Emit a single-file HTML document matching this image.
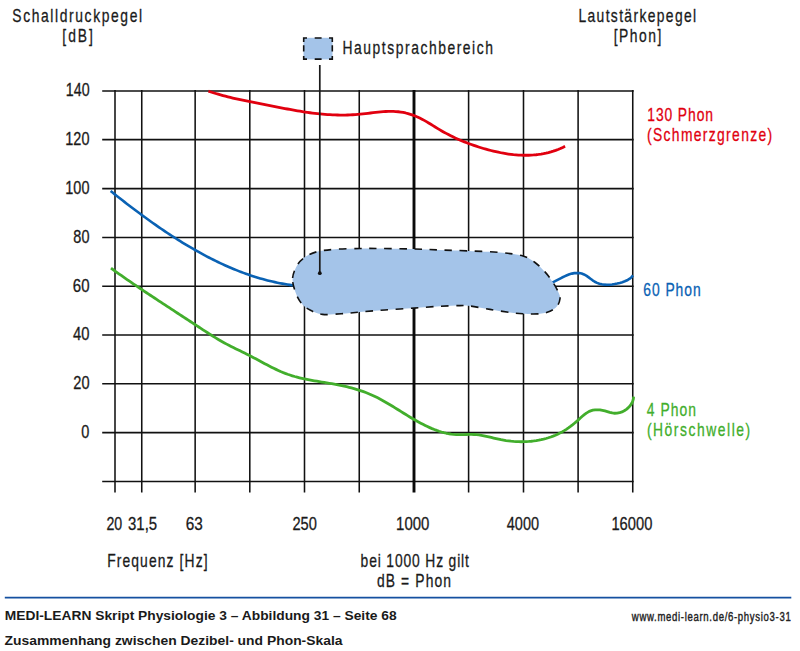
<!DOCTYPE html>
<html><head><meta charset="utf-8"><title>Zusammenhang zwischen Dezibel- und Phon-Skala</title>
<style>
html,body{margin:0;padding:0;background:#fff;width:800px;height:651px;overflow:hidden}
svg{display:block}
text{font-family:"Liberation Sans",Arial,sans-serif;white-space:pre}
</style></head><body>
<svg width="800" height="651" viewBox="0 0 800 651">
<rect width="800" height="651" fill="#fff"/>
<g stroke="#111111" stroke-width="1.55" fill="none"><line x1="102.2" y1="91" x2="633.65" y2="91"/><line x1="102.2" y1="139.6" x2="633.65" y2="139.6"/><line x1="102.2" y1="188.6" x2="633.65" y2="188.6"/><line x1="102.2" y1="237.4" x2="633.65" y2="237.4"/><line x1="102.2" y1="286.2" x2="633.65" y2="286.2"/><line x1="102.2" y1="335" x2="633.65" y2="335"/><line x1="102.2" y1="383.8" x2="633.65" y2="383.8"/><line x1="102.2" y1="432.6" x2="633.65" y2="432.6"/><line x1="102.2" y1="481.5" x2="633.65" y2="481.5"/><line x1="115" y1="90.1" x2="115" y2="492.4"/><line x1="141.75" y1="90.1" x2="141.75" y2="492.4"/><line x1="195.15" y1="90.1" x2="195.15" y2="492.4"/><line x1="249.8" y1="90.1" x2="249.8" y2="492.4"/><line x1="304.5" y1="90.1" x2="304.5" y2="492.4"/><line x1="359.25" y1="90.1" x2="359.25" y2="492.4"/><line x1="468.6" y1="90.1" x2="468.6" y2="492.4"/><line x1="523.5" y1="90.1" x2="523.5" y2="492.4"/><line x1="578.1" y1="90.1" x2="578.1" y2="492.4"/><line x1="632.75" y1="90.1" x2="632.75" y2="492.4"/></g>
<line x1="414" y1="90.1" x2="414" y2="492.4" stroke="#0a0a0a" stroke-width="2.9"/>
<path d="M110.62,190.99 L112.58,192.56 L114.54,194.12 L116.51,195.68 L118.48,197.24 L120.46,198.79 L122.44,200.34 L124.43,201.89 L126.42,203.43 L128.42,204.96 L130.42,206.50 L132.43,208.02 L134.44,209.55 L136.46,211.06 L138.48,212.57 L140.51,214.08 L142.55,215.58 L144.59,217.07 L146.63,218.56 L148.69,220.04 L150.74,221.51 L152.81,222.97 L154.88,224.43 L156.96,225.88 L159.04,227.31 L161.13,228.75 L163.23,230.17 L165.33,231.58 L167.44,232.98 L169.55,234.38 L171.67,235.76 L173.80,237.13 L175.94,238.50 L178.08,239.85 L180.23,241.19 L182.39,242.52 L184.55,243.84 L186.72,245.14 L188.90,246.44 L191.09,247.72 L193.28,248.99 L195.48,250.25 L197.69,251.49 L199.91,252.72 L202.13,253.93 L204.36,255.14 L206.60,256.32 L208.85,257.49 L211.10,258.65 L213.36,259.78 L215.63,260.91 L217.91,262.01 L220.20,263.10 L222.49,264.16 L224.79,265.21 L227.10,266.24 L229.41,267.26 L231.74,268.25 L234.07,269.22 L236.41,270.17 L238.75,271.09 L241.11,272.00 L243.47,272.88 L245.84,273.74 L248.22,274.58 L250.60,275.40 L252.99,276.19 L255.40,276.95 L257.80,277.69 L260.22,278.41 L262.64,279.10 L265.08,279.76 L267.52,280.40 L269.96,281.01 L272.42,281.59 L274.88,282.14 L277.35,282.66 L279.83,283.16 L282.32,283.62 L284.82,284.06 L287.32,284.47 L289.83,284.84 L292.35,285.18 L294.87,285.49 L297.41,285.77 L299.95,286.02 L302.50,286.23 L305.06,286.41" fill="none" stroke="#0a62b4" stroke-width="2.6" stroke-linecap="butt" stroke-linejoin="round"/>
<path d="M540.04,285.95 L542.44,285.77 L544.86,285.29 L547.28,284.56 L549.73,283.64 L552.18,282.55 L554.63,281.36 L557.10,280.09 L559.57,278.81 L562.04,277.54 L564.51,276.35 L566.98,275.26 L569.45,274.33 L571.91,273.60 L574.37,273.12 L576.81,272.93 L579.24,273.08 L581.65,273.58 L583.98,274.44 L586.22,275.66 L588.37,277.13 L590.48,278.72 L592.60,280.30 L594.77,281.72 L597.03,282.88 L599.39,283.73 L601.82,284.33 L604.31,284.67 L606.85,284.80 L609.43,284.72 L612.03,284.47 L614.63,284.07 L617.23,283.54 L619.80,282.90 L622.33,282.17 L624.79,281.31 L627.13,280.27 L629.31,278.98 L631.29,277.40 L633.02,275.46" fill="none" stroke="#0a62b4" stroke-width="2.6" stroke-linecap="butt" stroke-linejoin="round"/>
<path d="M208.43,91.15 L210.84,91.97 L213.26,92.75 L215.69,93.49 L218.12,94.21 L220.55,94.91 L222.99,95.57 L225.44,96.22 L227.89,96.84 L230.34,97.44 L232.79,98.02 L235.25,98.58 L237.72,99.13 L240.19,99.67 L242.66,100.19 L245.13,100.70 L247.60,101.21 L250.08,101.70 L252.56,102.19 L255.04,102.68 L257.53,103.16 L260.01,103.64 L262.50,104.13 L264.99,104.61 L267.48,105.10 L269.97,105.59 L272.46,106.09 L274.95,106.58 L277.45,107.07 L279.94,107.56 L282.44,108.05 L284.93,108.53 L287.43,109.00 L289.93,109.47 L292.43,109.93 L294.93,110.37 L297.43,110.80 L299.93,111.22 L302.43,111.63 L304.93,112.02 L307.44,112.39 L309.94,112.74 L312.44,113.07 L314.95,113.38 L317.45,113.67 L319.96,113.94 L322.47,114.17 L324.97,114.38 L327.48,114.57 L329.99,114.72 L332.50,114.85 L335.02,114.95 L337.53,115.02 L340.05,115.06 L342.57,115.06 L345.10,115.04 L347.62,114.98 L350.15,114.89 L352.69,114.76 L355.23,114.60 L357.77,114.40 L360.32,114.17 L362.87,113.90 L365.42,113.61 L367.98,113.31 L370.53,113.00 L373.09,112.70 L375.64,112.40 L378.19,112.13 L380.73,111.89 L383.27,111.68 L385.80,111.52 L388.32,111.42 L390.83,111.39 L393.33,111.42 L395.82,111.54 L398.30,111.75 L400.76,112.06 L403.20,112.47 L405.63,112.99 L408.03,113.60 L410.42,114.31 L412.78,115.11 L415.12,116.01 L417.44,116.98 L419.73,118.04 L421.99,119.18 L424.23,120.38 L426.44,121.64 L428.64,122.94 L430.83,124.28 L433.01,125.62 L435.19,126.98 L437.37,128.32 L439.56,129.64 L441.76,130.93 L443.96,132.18 L446.18,133.39 L448.42,134.57 L450.66,135.71 L452.92,136.82 L455.19,137.90 L457.47,138.94 L459.76,139.95 L462.07,140.93 L464.39,141.88 L466.73,142.80 L469.08,143.69 L471.44,144.56 L473.82,145.39 L476.21,146.20 L478.61,146.99 L481.03,147.74 L483.47,148.48 L485.92,149.18 L488.38,149.86 L490.85,150.51 L493.33,151.12 L495.82,151.70 L498.32,152.24 L500.83,152.75 L503.34,153.21 L505.86,153.63 L508.38,154.01 L510.91,154.34 L513.43,154.63 L515.96,154.86 L518.49,155.05 L521.01,155.18 L523.54,155.25 L526.06,155.27 L528.58,155.23 L531.09,155.13 L533.59,154.97 L536.09,154.74 L538.58,154.45 L541.06,154.09 L543.53,153.66 L545.98,153.15 L548.43,152.58 L550.86,151.93 L553.28,151.20 L555.68,150.39 L558.06,149.50 L560.43,148.53 L562.77,147.47 L565.10,146.33" fill="none" stroke="#e1000f" stroke-width="2.8" stroke-linecap="butt" stroke-linejoin="round"/>
<path d="M110.99,268.17 L113.03,269.64 L115.07,271.11 L117.12,272.57 L119.17,274.02 L121.23,275.47 L123.29,276.91 L125.35,278.35 L127.42,279.78 L129.49,281.21 L131.56,282.63 L133.64,284.05 L135.72,285.46 L137.80,286.87 L139.88,288.28 L141.97,289.68 L144.06,291.08 L146.15,292.48 L148.24,293.87 L150.34,295.26 L152.43,296.65 L154.53,298.04 L156.63,299.42 L158.73,300.81 L160.84,302.19 L162.94,303.57 L165.04,304.95 L167.15,306.32 L169.26,307.70 L171.36,309.08 L173.47,310.45 L175.58,311.83 L177.69,313.21 L179.80,314.59 L181.91,315.96 L184.02,317.34 L186.13,318.72 L188.24,320.10 L190.34,321.48 L192.45,322.87 L194.56,324.26 L196.67,325.64 L198.77,327.03 L200.88,328.42 L202.99,329.80 L205.10,331.18 L207.22,332.55 L209.34,333.90 L211.47,335.25 L213.61,336.58 L215.75,337.89 L217.91,339.18 L220.07,340.45 L222.25,341.70 L224.44,342.92 L226.65,344.11 L228.86,345.27 L231.09,346.41 L233.33,347.54 L235.57,348.65 L237.82,349.76 L240.07,350.86 L242.33,351.97 L244.58,353.08 L246.84,354.20 L249.09,355.33 L251.33,356.49 L253.57,357.67 L255.81,358.86 L258.04,360.05 L260.27,361.26 L262.50,362.46 L264.74,363.66 L266.98,364.84 L269.22,366.01 L271.47,367.16 L273.73,368.29 L276.00,369.38 L278.28,370.44 L280.57,371.47 L282.88,372.44 L285.21,373.37 L287.55,374.24 L289.91,375.05 L292.29,375.81 L294.68,376.52 L297.09,377.17 L299.52,377.79 L301.96,378.37 L304.41,378.91 L306.87,379.42 L309.34,379.90 L311.81,380.36 L314.30,380.80 L316.79,381.23 L319.28,381.65 L321.78,382.06 L324.27,382.47 L326.77,382.88 L329.27,383.30 L331.77,383.72 L334.26,384.17 L336.75,384.63 L339.23,385.11 L341.71,385.62 L344.17,386.15 L346.63,386.72 L349.08,387.31 L351.51,387.94 L353.94,388.61 L356.35,389.31 L358.74,390.05 L361.12,390.83 L363.48,391.66 L365.82,392.53 L368.14,393.45 L370.45,394.42 L372.73,395.44 L374.99,396.51 L377.23,397.62 L379.46,398.77 L381.67,399.95 L383.87,401.17 L386.05,402.41 L388.23,403.68 L390.40,404.97 L392.56,406.28 L394.71,407.61 L396.86,408.94 L399.01,410.28 L401.16,411.62 L403.31,412.96 L405.46,414.29 L407.62,415.62 L409.78,416.93 L411.94,418.23 L414.12,419.51 L416.31,420.77 L418.50,422.00 L420.72,423.20 L422.94,424.36 L425.19,425.49 L427.45,426.58 L429.73,427.62 L432.03,428.61 L434.36,429.55 L436.71,430.43 L439.08,431.25 L441.48,432.00 L443.90,432.67 L446.34,433.26 L448.79,433.75 L451.27,434.14 L453.77,434.42 L456.28,434.58 L458.80,434.64 L461.34,434.62 L463.87,434.56 L466.41,434.49 L468.95,434.43 L471.47,434.42 L473.98,434.50 L476.48,434.67 L478.96,434.96 L481.42,435.35 L483.88,435.81 L486.32,436.33 L488.77,436.90 L491.21,437.48 L493.66,438.08 L496.11,438.66 L498.58,439.22 L501.05,439.73 L503.54,440.18 L506.05,440.58 L508.56,440.92 L511.08,441.21 L513.61,441.43 L516.14,441.59 L518.67,441.69 L521.20,441.73 L523.73,441.71 L526.26,441.62 L528.77,441.47 L531.28,441.25 L533.78,440.96 L536.26,440.60 L538.73,440.18 L541.18,439.68 L543.61,439.11 L546.02,438.48 L548.40,437.76 L550.76,436.98 L553.08,436.12 L555.38,435.18 L557.65,434.17 L559.88,433.08 L562.07,431.91 L564.23,430.66 L566.34,429.33 L568.42,427.92 L570.46,426.43 L572.47,424.88 L574.46,423.25 L576.43,421.57 L578.40,419.83 L580.35,418.05 L582.32,416.29 L584.32,414.63 L586.36,413.12 L588.46,411.85 L590.63,410.86 L592.88,410.20 L595.20,409.86 L597.58,409.79 L600.00,409.97 L602.44,410.37 L604.90,410.95 L607.36,411.67 L609.81,412.39 L612.27,412.97 L614.73,413.26 L617.19,413.17 L619.61,412.70 L621.97,411.88 L624.24,410.75 L626.40,409.32 L628.38,407.62 L630.14,405.70 L631.60,403.59 L632.70,401.34 L633.38,398.98 L633.56,396.54" fill="none" stroke="#42ae2c" stroke-width="2.8" stroke-linecap="butt" stroke-linejoin="round"/>
<path d="M292.60,278.00 C292.97,273.28 295.53,267.82 297.80,264.20 C300.07,260.58 302.97,258.40 306.25,256.30 C309.53,254.20 312.71,252.77 317.50,251.60 C322.29,250.43 327.92,249.82 335.00,249.30 C342.08,248.78 352.50,248.63 360.00,248.50 C367.50,248.37 371.00,248.42 380.00,248.50 C389.00,248.58 404.00,248.75 414.00,249.00 C424.00,249.25 430.88,249.68 440.00,250.00 C449.12,250.32 458.70,250.48 468.70,250.90 C478.70,251.32 490.95,251.65 500.00,252.50 C509.05,253.35 517.17,254.33 523.00,256.00 C528.83,257.67 531.33,259.85 535.00,262.50 C538.67,265.15 542.00,268.57 545.00,271.90 C548.00,275.23 550.75,279.07 553.00,282.50 C555.25,285.93 557.33,289.79 558.50,292.50 C559.67,295.21 560.25,296.46 560.00,298.75 C559.75,301.04 558.67,304.17 557.00,306.25 C555.33,308.33 552.83,310.00 550.00,311.25 C547.17,312.50 544.50,313.33 540.00,313.75 C535.50,314.17 528.00,313.96 523.00,313.75 C518.00,313.54 515.50,313.23 510.00,312.50 C504.50,311.77 496.67,310.48 490.00,309.40 C483.33,308.32 475.00,306.63 470.00,306.00 C465.00,305.37 465.00,305.56 460.00,305.60 C455.00,305.64 447.67,305.83 440.00,306.25 C432.33,306.67 423.17,307.48 414.00,308.10 C404.83,308.73 394.00,309.35 385.00,310.00 C376.00,310.65 367.29,311.38 360.00,312.00 C352.71,312.62 347.50,313.35 341.25,313.75 C335.00,314.15 327.62,314.97 322.50,314.40 C317.38,313.82 313.95,312.07 310.50,310.30 C307.05,308.53 304.28,306.72 301.80,303.75 C299.32,300.78 297.13,296.79 295.60,292.50 C294.07,288.21 292.23,282.72 292.60,278.00 Z" fill="#a4c4e9" stroke="#111" stroke-width="1.6" stroke-dasharray="7.5 7.6" stroke-dashoffset="0"/>
<line x1="319.8" y1="65" x2="319.8" y2="273.2" stroke="#1a1a1a" stroke-width="1.7"/>
<circle cx="319.8" cy="273.2" r="1.9" fill="#111"/>
<rect x="303.5" y="37.8" width="29.0" height="21.6" fill="#a4c4e9"/>
<path d="M303.7,42 V38 H307 M314.7,38 H321.6 M329,38 H332.3 V42 M303.7,45.3 V51.6 M332.3,45.3 V51.6 M303.7,56 V59.1 H307 M314.7,59.1 H321.6 M329,59.1 H332.3 V56" fill="none" stroke="#111" stroke-width="1.6"/>
<line x1="4.8" y1="597.6" x2="791.3" y2="597.6" stroke="#1450a0" stroke-width="1.9"/>
<text id="t_sdp" transform="scale(0.745,1)" x="16.59" y="21.80" font-size="18.6" fill="#1a1a1a" font-weight="normal" textLength="174.08" lengthAdjust="spacing" stroke="#1a1a1a" stroke-width="0.3" style="font-family:"Liberation Sans", Arial, sans-serif">Schalldruckpegel</text>
<text id="t_db" transform="scale(0.745,1)" x="83.70" y="42.30" font-size="18.6" fill="#1a1a1a" font-weight="normal" textLength="41.02" lengthAdjust="spacing" stroke="#1a1a1a" stroke-width="0.3" style="font-family:"Liberation Sans", Arial, sans-serif">[dB]</text>
<text id="t_hsb" transform="scale(0.745,1)" x="459.76" y="54.00" font-size="18.6" fill="#1a1a1a" font-weight="normal" textLength="201.94" lengthAdjust="spacing" stroke="#1a1a1a" stroke-width="0.3" style="font-family:"Liberation Sans", Arial, sans-serif">Hauptsprachbereich</text>
<text id="t_lsp" transform="scale(0.745,1)" x="776.48" y="21.70" font-size="18.6" fill="#1a1a1a" font-weight="normal" textLength="157.90" lengthAdjust="spacing" stroke="#1a1a1a" stroke-width="0.3" style="font-family:"Liberation Sans", Arial, sans-serif">Lautstärkepegel</text>
<text id="t_phon" transform="scale(0.745,1)" x="823.73" y="41.80" font-size="18.6" fill="#1a1a1a" font-weight="normal" textLength="64.05" lengthAdjust="spacing" stroke="#1a1a1a" stroke-width="0.3" style="font-family:"Liberation Sans", Arial, sans-serif">[Phon]</text>
<text id="y140" x="65.81" y="96.40" font-size="18.6" fill="#1a1a1a" font-weight="normal" textLength="23.75" lengthAdjust="spacingAndGlyphs" stroke="#1a1a1a" stroke-width="0.3" style="font-family:"Liberation Sans", Arial, sans-serif">140</text>
<text id="y120" x="65.31" y="145.00" font-size="18.6" fill="#1a1a1a" font-weight="normal" textLength="24.12" lengthAdjust="spacingAndGlyphs" stroke="#1a1a1a" stroke-width="0.3" style="font-family:"Liberation Sans", Arial, sans-serif">120</text>
<text id="y100" x="65.31" y="194.00" font-size="18.6" fill="#1a1a1a" font-weight="normal" textLength="24.12" lengthAdjust="spacingAndGlyphs" stroke="#1a1a1a" stroke-width="0.3" style="font-family:"Liberation Sans", Arial, sans-serif">100</text>
<text id="y80" x="73.36" y="242.80" font-size="18.6" fill="#1a1a1a" font-weight="normal" textLength="16.08" lengthAdjust="spacingAndGlyphs" stroke="#1a1a1a" stroke-width="0.3" style="font-family:"Liberation Sans", Arial, sans-serif">80</text>
<text id="y60" x="72.81" y="291.60" font-size="18.6" fill="#1a1a1a" font-weight="normal" textLength="16.70" lengthAdjust="spacingAndGlyphs" stroke="#1a1a1a" stroke-width="0.3" style="font-family:"Liberation Sans", Arial, sans-serif">60</text>
<text id="y40" x="73.08" y="340.40" font-size="18.6" fill="#1a1a1a" font-weight="normal" textLength="16.46" lengthAdjust="spacingAndGlyphs" stroke="#1a1a1a" stroke-width="0.3" style="font-family:"Liberation Sans", Arial, sans-serif">40</text>
<text id="y20" x="73.28" y="389.20" font-size="18.6" fill="#1a1a1a" font-weight="normal" textLength="16.27" lengthAdjust="spacingAndGlyphs" stroke="#1a1a1a" stroke-width="0.3" style="font-family:"Liberation Sans", Arial, sans-serif">20</text>
<text id="y0" x="81.37" y="438.00" font-size="18.6" fill="#1a1a1a" font-weight="normal" textLength="8.08" lengthAdjust="spacingAndGlyphs" stroke="#1a1a1a" stroke-width="0.3" style="font-family:"Liberation Sans", Arial, sans-serif">0</text>
<text id="x0" x="106.48" y="530.30" font-size="18.6" fill="#1a1a1a" font-weight="normal" textLength="15.80" lengthAdjust="spacingAndGlyphs" stroke="#1a1a1a" stroke-width="0.3" style="font-family:"Liberation Sans", Arial, sans-serif">20</text>
<text id="x1" x="128.04" y="530.30" font-size="18.6" fill="#1a1a1a" font-weight="normal" textLength="29.12" lengthAdjust="spacingAndGlyphs" stroke="#1a1a1a" stroke-width="0.3" style="font-family:"Liberation Sans", Arial, sans-serif">31,5</text>
<text id="x2" x="185.78" y="530.30" font-size="18.6" fill="#1a1a1a" font-weight="normal" textLength="17.07" lengthAdjust="spacingAndGlyphs" stroke="#1a1a1a" stroke-width="0.3" style="font-family:"Liberation Sans", Arial, sans-serif">63</text>
<text id="x3" x="292.45" y="530.30" font-size="18.6" fill="#1a1a1a" font-weight="normal" textLength="24.44" lengthAdjust="spacingAndGlyphs" stroke="#1a1a1a" stroke-width="0.3" style="font-family:"Liberation Sans", Arial, sans-serif">250</text>
<text id="x4" x="396.09" y="530.30" font-size="18.6" fill="#1a1a1a" font-weight="normal" textLength="33.29" lengthAdjust="spacingAndGlyphs" stroke="#1a1a1a" stroke-width="0.3" style="font-family:"Liberation Sans", Arial, sans-serif">1000</text>
<text id="x5" x="506.75" y="530.30" font-size="18.6" fill="#1a1a1a" font-weight="normal" textLength="32.30" lengthAdjust="spacingAndGlyphs" stroke="#1a1a1a" stroke-width="0.3" style="font-family:"Liberation Sans", Arial, sans-serif">4000</text>
<text id="x6" x="611.44" y="530.30" font-size="18.6" fill="#1a1a1a" font-weight="normal" textLength="40.91" lengthAdjust="spacingAndGlyphs" stroke="#1a1a1a" stroke-width="0.3" style="font-family:"Liberation Sans", Arial, sans-serif">16000</text>
<text id="t_freq" transform="scale(0.745,1)" x="143.80" y="567.30" font-size="18.6" fill="#1a1a1a" font-weight="normal" textLength="134.84" lengthAdjust="spacing" stroke="#1a1a1a" stroke-width="0.3" style="font-family:"Liberation Sans", Arial, sans-serif">Frequenz [Hz]</text>
<text id="t_bei" transform="scale(0.745,1)" x="484.05" y="566.90" font-size="18.6" fill="#1a1a1a" font-weight="normal" textLength="145.35" lengthAdjust="spacing" stroke="#1a1a1a" stroke-width="0.3" style="font-family:"Liberation Sans", Arial, sans-serif">bei 1000 Hz gilt</text>
<text id="t_dbp" transform="scale(0.745,1)" x="505.95" y="586.70" font-size="18.6" fill="#1a1a1a" font-weight="normal" textLength="99.51" lengthAdjust="spacing" stroke="#1a1a1a" stroke-width="0.3" style="font-family:"Liberation Sans", Arial, sans-serif">dB = Phon</text>
<text id="t_130" transform="scale(0.745,1)" x="868.81" y="120.70" font-size="18.6" fill="#e1000f" font-weight="normal" textLength="88.18" lengthAdjust="spacing" stroke="#e1000f" stroke-width="0.3" style="font-family:"Liberation Sans", Arial, sans-serif">130 Phon</text>
<text id="t_schm" transform="scale(0.745,1)" x="868.51" y="141.00" font-size="18.6" fill="#e1000f" font-weight="normal" textLength="167.92" lengthAdjust="spacing" stroke="#e1000f" stroke-width="0.3" style="font-family:"Liberation Sans", Arial, sans-serif">(Schmerzgrenze)</text>
<text id="t_60" transform="scale(0.745,1)" x="863.34" y="295.60" font-size="18.6" fill="#0a62b4" font-weight="normal" textLength="77.21" lengthAdjust="spacing" stroke="#0a62b4" stroke-width="0.3" style="font-family:"Liberation Sans", Arial, sans-serif">60 Phon</text>
<text id="t_4" transform="scale(0.745,1)" x="868.02" y="416.50" font-size="18.6" fill="#42ae2c" font-weight="normal" textLength="66.17" lengthAdjust="spacing" stroke="#42ae2c" stroke-width="0.3" style="font-family:"Liberation Sans", Arial, sans-serif">4 Phon</text>
<text id="t_hoer" transform="scale(0.745,1)" x="868.35" y="436.50" font-size="18.6" fill="#42ae2c" font-weight="normal" textLength="138.54" lengthAdjust="spacing" stroke="#42ae2c" stroke-width="0.3" style="font-family:"Liberation Sans", Arial, sans-serif">(Hörschwelle)</text>
<text id="f1" x="4.80" y="619.90" font-size="13.5" fill="#1a1a1a" font-weight="bold" textLength="391.76" lengthAdjust="spacingAndGlyphs" style="font-family:"Liberation Sans", Arial, sans-serif">MEDI-LEARN Skript Physiologie 3 – Abbildung 31 – Seite 68</text>
<text id="f2" x="4.62" y="644.90" font-size="13.5" fill="#1a1a1a" font-weight="bold" textLength="337.92" lengthAdjust="spacingAndGlyphs" style="font-family:"Liberation Sans", Arial, sans-serif">Zusammenhang zwischen Dezibel- und Phon-Skala</text>
<text id="f3" transform="scale(0.76,1)" x="831.39" y="620.80" font-size="12.6" fill="#222" font-weight="normal" textLength="209.04" lengthAdjust="spacing" stroke="#222" stroke-width="0.4" style="font-family:"Liberation Sans", Arial, sans-serif">www.medi-learn.de/6-physio3-31</text>
</svg>
</body></html>
